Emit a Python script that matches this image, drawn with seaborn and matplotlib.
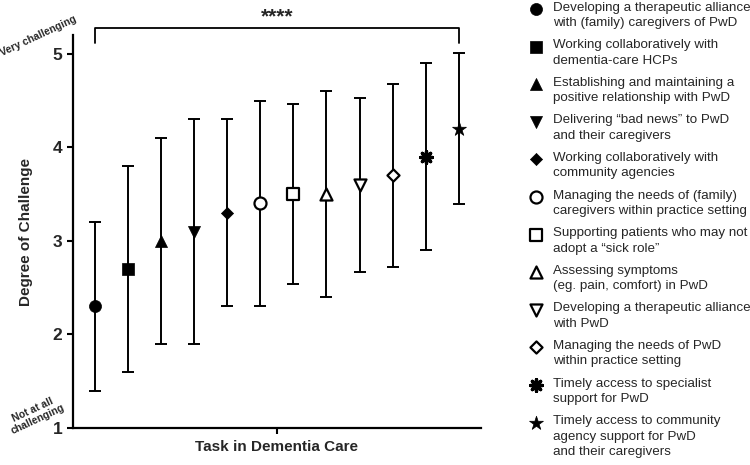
import numpy as np
import pandas as pd
import matplotlib.pyplot as plt
import seaborn as sns

# tasks in the order they appear on the x axis (sorted by mean challenge)
tasks = [
    "Developing a therapeutic alliance\nwith (family) caregivers of PwD",
    "Working collaboratively with\ndementia-care HCPs",
    "Establishing and maintaining a\npositive relationship with PwD",
    "Delivering \u201cbad news\u201d to PwD\nand their caregivers",
    "Working collaboratively with\ncommunity agencies",
    "Managing the needs of (family)\ncaregivers within practice setting",
    "Supporting patients who may not\nadopt a \u201csick role\u201d",
    "Assessing symptoms\n(eg. pain, comfort) in PwD",
    "Developing a therapeutic alliance\nwith PwD",
    "Managing the needs of PwD\nwithin practice setting",
    "Timely access to specialist\nsupport for PwD",
    "Timely access to community\nagency support for PwD\nand their caregivers",
]
mean_score = [2.3, 2.7, 3.0, 3.1, 3.3, 3.4, 3.5, 3.5, 3.6, 3.7, 3.9, 4.2]
sd_score = [0.9, 1.1, 1.1, 1.2, 1.0, 1.1, 0.96, 1.1, 0.93, 0.98, 1.0, 0.81]
task_markers = ['o', 's', '^', 'v', 'D', 'o', 's', '^', 'v', 'D', (8, 2, 0), '*']
marker_kind = ['filled'] * 5 + ['open'] * 5 + ['line', 'filled']
marker_size = [75, 70, 75, 75, 38, 75, 70, 75, 75, 38, 70, 110]

sns.set_style("ticks")
plt.rcParams['font.family'] = ['Liberation Sans', 'DejaVu Sans']

df = pd.DataFrame({'task': tasks, 'mean': mean_score, 'sd': sd_score,
                   'kind': marker_kind, 'size': marker_size})
df['pos'] = np.arange(len(df))


def marker_style(kind):
    if kind == 'filled':
        return dict(color='black', edgecolor='black', linewidth=0.5)
    if kind == 'open':
        return dict(facecolor='white', edgecolor='black', linewidth=1.6)
    return dict(color='black', linewidth=2.4)


fig = plt.figure(figsize=(7.5, 4.65), dpi=100)
ax = fig.add_axes([0.097, 0.0796, 0.544, 0.845])

ax.errorbar(df['pos'], df['mean'], yerr=df['sd'], fmt='none', ecolor='black',
            elinewidth=1.4, capsize=4.5, capthick=1.4, zorder=2)

for i, row in df.iterrows():
    sns.scatterplot(x=[row['pos']], y=[row['mean']], marker=task_markers[i],
                    s=row['size'], legend=False, ax=ax, zorder=3,
                    **marker_style(row['kind']))

# significance bracket across all tasks
n = len(df)
ax.plot([0, 0, n - 1, n - 1], [5.12, 5.28, 5.28, 5.12], color='black',
        lw=1.3, clip_on=False)
ax.text((n - 1) / 2, 5.29, "****", ha='center', va='bottom', fontsize=15,
        fontweight='bold')

ax.set_xlim(-0.66, n - 1 + 0.66)
ax.set_ylim(1, 5.2)
ax.set_yticks([1, 2, 3, 4, 5])
ax.set_yticklabels(['1', '2', '3', '4', '5'], fontsize=12.5, fontweight='bold')
ax.set_xticks([(n - 1) / 2])
ax.set_xticklabels([''])
ax.set_xlabel("Task in Dementia Care", fontsize=11, fontweight='bold', labelpad=1)
ax.set_ylabel("Degree of Challenge", fontsize=11, fontweight='bold', labelpad=14)
ax.tick_params(axis='both', width=1.5, length=4, color='black')
for side in ['left', 'bottom']:
    ax.spines[side].set_linewidth(1.6)
    ax.spines[side].set_color('black')
sns.despine(ax=ax)

fig.text(0.051, 0.923, "Very challenging", rotation=25, ha='center', va='center',
         fontsize=7.5, fontweight='bold')
fig.text(0.047, 0.108, "Not at all\nchallenging", rotation=25, ha='center',
         va='center', fontsize=7.5, fontweight='bold', linespacing=1.0)

# legend drawn as a column of marker + wrapped label, in pixel coords
lax = fig.add_axes([0, 0, 1, 1], facecolor='none')
lax.set_xlim(0, 750)
lax.set_ylim(465, 0)
lax.axis('off')
for i, row in df.iterrows():
    y = 9 + 37.6 * i
    lax.scatter([536], [y], marker=task_markers[i], s=row['size'],
                **marker_style(row['kind']))
    lax.text(553, y - 7.5, row['task'], ha='left', va='top', fontsize=9.6,
             linespacing=1.38)

fig.savefig("out.png", dpi=100)
